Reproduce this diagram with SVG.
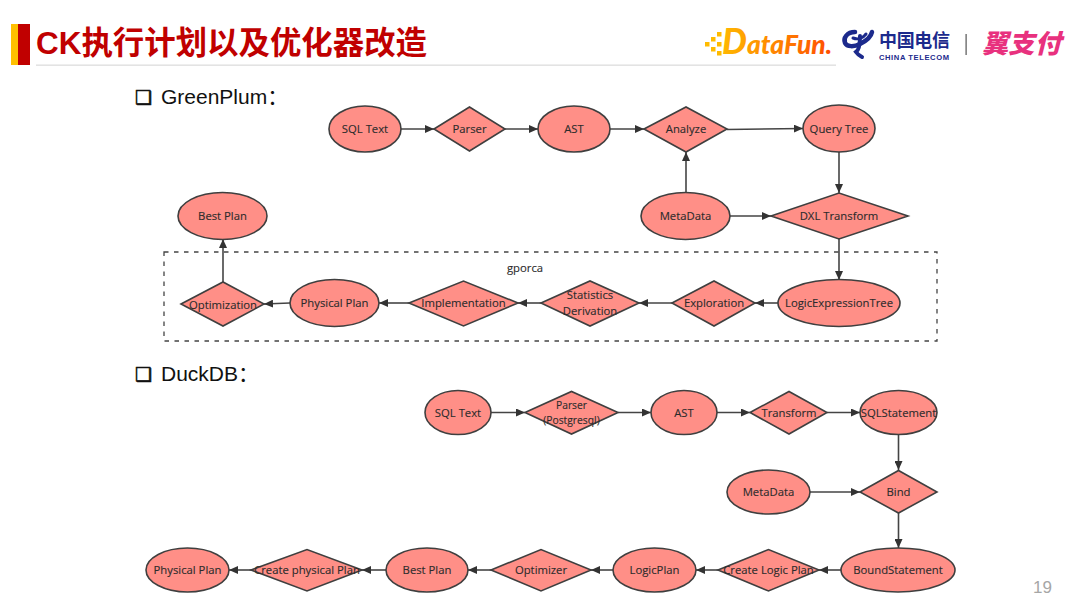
<svg xmlns="http://www.w3.org/2000/svg" width="1080" height="608" viewBox="0 0 1080 608">
<style>
.n{fill:#ff8f87;stroke:#3f3f3f;stroke-width:1.6}
.t{font-family:"Open Sans","Noto Sans",sans-serif;font-size:11.3px;fill:#2b2b2b;text-anchor:middle;stroke:#2b2b2b;stroke-width:.12}
.c{fill:none;stroke:#444;stroke-width:1.6;marker-end:url(#a)}
.b{font-family:"Liberation Sans","Noto Sans CJK SC",sans-serif;font-size:21px;fill:#111}
.k{font-family:"DejaVu Sans",sans-serif;font-size:19px;fill:#111;stroke:#111;stroke-width:.6}
</style>
<defs>
<marker id="a" viewBox="0 0 9 8" markerWidth="9" markerHeight="8" refX="9" refY="4" orient="auto" markerUnits="userSpaceOnUse"><path d="M0 0L9 4L0 8Z" fill="#333"/></marker>
<linearGradient id="g" x1="0" x2="1" y1="0" y2="0"><stop offset="0" stop-color="#ffb800"/><stop offset="1" stop-color="#ff4d00"/></linearGradient>
</defs>
<rect width="1080" height="608" fill="#fff"/>
<g id="header">
<rect x="11" y="24" width="7" height="41" fill="#ffc000"/>
<rect x="18" y="24" width="12" height="41" fill="#c00000"/>
<text x="36" y="54" font-family="'Liberation Sans','Noto Sans CJK SC',sans-serif" font-size="31.5" font-weight="700" fill="#c00000" textLength="391" lengthAdjust="spacingAndGlyphs">CK执行计划以及优化器改造</text>
<rect x="36" y="64.500" width="800" height="1.300" fill="#ddd"/>
</g>
<g id="logos">
<g fill="#ffbb00"><rect x="705" y="42" width="4.500" height="4.500"/><rect x="711" y="37" width="4.500" height="4.500"/><rect x="711" y="47" width="4.500" height="4.500"/><rect x="717" y="32" width="4.500" height="4.500"/><rect x="717" y="42" width="4.500" height="4.500"/><rect x="717" y="51" width="4.500" height="4.500"/></g>
<text x="722" y="54" font-family="Lato,'Liberation Sans',sans-serif" font-size="27" font-weight="900" font-style="italic" fill="url(#g)" textLength="110" lengthAdjust="spacingAndGlyphs"><tspan font-size="36">D</tspan>ataFun.</text>
<g fill="none" stroke="#1c2a8c" stroke-linecap="round">
<path d="M855 32C847 32 843 38 845 43C847 47 854 47 860 44C866 41 871 37 872 32" stroke-width="4.500"/>
<path d="M853 38C858 40 863 38 866 34" stroke-width="3"/>
<path d="M860 36C860 44 859 50 856 52C858 55 860 56 862 57" stroke-width="4"/>
</g>
<text x="879" y="47" font-family="'Noto Sans CJK SC',sans-serif" font-size="18" font-weight="700" fill="#1c2a8c" textLength="71">中国电信</text>
<text x="879" y="60" font-family="'Liberation Sans',sans-serif" font-size="7.600" font-weight="700" fill="#1c2a8c" textLength="70">CHINA TELECOM</text>
<rect x="965.500" y="34" width="1.200" height="21" fill="#555"/>
<text x="982" y="53" font-family="'Noto Sans CJK SC',sans-serif" font-size="26" font-weight="900" font-style="italic" fill="#e8317e" textLength="79" lengthAdjust="spacingAndGlyphs">翼支付</text>
</g>
<text class="k" x="135" y="104">❑</text>
<text class="b" x="161" y="104">GreenPlum：</text>
<text class="k" x="135" y="381">❑</text>
<text class="b" x="161" y="381">DuckDB：</text>
<text x="1033" y="593" font-family="'Liberation Sans',sans-serif" font-size="17" fill="#a6a6a6">19</text>
<rect id="gporca-frame" x="164" y="252" width="773" height="89" fill="none" stroke="#444" stroke-width="1.300" stroke-dasharray="4.500 5.500"/>
<text class="t" x="525" y="272">gporca</text>
<g id="connectors">
<path class="c" d="M401 129H434"/>
<path class="c" d="M505 129H538"/>
<path class="c" d="M610 129H644"/>
<path class="c" d="M727 129.500L803 128.500"/>
<path class="c" d="M686 192V152"/>
<path class="c" d="M839 152V193"/>
<path class="c" d="M730 216H771"/>
<path class="c" d="M839 239V280"/>
<path class="c" d="M778 303H755"/>
<path class="c" d="M672 303H639"/>
<path class="c" d="M541 303H518"/>
<path class="c" d="M409 303H379"/>
<path class="c" d="M290 303L264 304"/>
<path class="c" d="M223 282V239"/>
<path class="c" d="M491 412.500H525"/>
<path class="c" d="M618 412.500H651"/>
<path class="c" d="M717 412.500H750"/>
<path class="c" d="M827 412.500H860"/>
<path class="c" d="M898.500 435V470"/>
<path class="c" d="M810 492H860"/>
<path class="c" d="M898.500 513V548"/>
<path class="c" d="M841 570H819"/>
<path class="c" d="M718 570H696"/>
<path class="c" d="M613 570H591"/>
<path class="c" d="M491 570H468"/>
<path class="c" d="M386 570H362"/>
<path class="c" d="M251 570H229"/>
</g>
<g id="gp-sqltext"><ellipse class="n" cx="365" cy="129" rx="36" ry="23"/><text class="t" x="365" y="133">SQL Text</text></g>
<g id="gp-parser"><path class="n" d="M434 129L469.500 107L505 129L469.500 151Z"/><text class="t" x="469.500" y="133">Parser</text></g>
<g id="gp-ast"><ellipse class="n" cx="574" cy="129" rx="36" ry="23"/><text class="t" x="574" y="133">AST</text></g>
<g id="gp-analyze"><path class="n" d="M644 129L686 107L727 129L686 152Z"/><text class="t" x="686" y="133">Analyze</text></g>
<g id="gp-querytree"><ellipse class="n" cx="839" cy="128.500" rx="36" ry="23.500"/><text class="t" x="839" y="132.500">Query Tree</text></g>
<g id="gp-metadata"><ellipse class="n" cx="685.500" cy="216" rx="44.500" ry="23.500"/><text class="t" x="685.500" y="220">MetaData</text></g>
<g id="gp-dxl"><path class="n" d="M771 216L839 193L908 216L839 239Z"/><text class="t" x="839" y="220">DXL Transform</text></g>
<g id="gp-bestplan"><ellipse class="n" cx="222.500" cy="216" rx="44.500" ry="23.500"/><text class="t" x="222.500" y="220">Best Plan</text></g>
<g id="gp-logicexpr"><ellipse class="n" cx="839" cy="303" rx="61" ry="23.500"/><text class="t" x="839" y="307">LogicExpressionTree</text></g>
<g id="gp-exploration"><path class="n" d="M672 303L714 281L755 303L714 326Z"/><text class="t" x="714" y="307">Exploration</text></g>
<g id="gp-statistics"><path class="n" d="M541 303L590 281L639 303L590 326Z"/><text class="t" x="590" y="299">Statistics</text><text class="t" x="590" y="315">Derivation</text></g>
<g id="gp-implementation"><path class="n" d="M409 303L463.500 281L518 303L463.500 326Z"/><text class="t" x="463.500" y="307">Implementation</text></g>
<g id="gp-physical"><ellipse class="n" cx="334.500" cy="303" rx="44.500" ry="23.500"/><text class="t" x="334.500" y="307">Physical Plan</text></g>
<g id="gp-optimization"><path class="n" d="M181 304L223 282L264 304L223 326Z"/><text class="t" x="223" y="309">Optimization</text></g>
<g id="dk-sqltext"><ellipse class="n" cx="458" cy="412.500" rx="33" ry="22"/><text class="t" x="458" y="416.500">SQL Text</text></g>
<g id="dk-parser"><path class="n" d="M525 412.500L571.500 391.500L618 412.500L571.500 434Z"/><text class="t" x="571.500" y="409" style="font-size:10.300px">Parser</text><text class="t" x="571.500" y="424" style="font-size:10.300px">(Postgresql)</text></g>
<g id="dk-ast"><ellipse class="n" cx="684" cy="412.500" rx="33" ry="22"/><text class="t" x="684" y="416.500">AST</text></g>
<g id="dk-transform"><path class="n" d="M750 412.500L789 391.500L827 412.500L789 434Z"/><text class="t" x="789" y="416.500">Transform</text></g>
<g id="dk-sqlstatement"><ellipse class="n" cx="898.500" cy="412.500" rx="38.500" ry="22"/><text class="t" x="898.500" y="416.500">SQLStatement</text></g>
<g id="dk-metadata"><ellipse class="n" cx="768.500" cy="492" rx="41.500" ry="22"/><text class="t" x="768.500" y="496">MetaData</text></g>
<g id="dk-bind"><path class="n" d="M860 492L898.500 470.500L937 492L898.500 513Z"/><text class="t" x="898.500" y="496">Bind</text></g>
<g id="dk-bound"><ellipse class="n" cx="898" cy="570" rx="57" ry="22"/><text class="t" x="898" y="574">BoundStatement</text></g>
<g id="dk-createlogic"><path class="n" d="M718 570L768.500 549.500L819 570L768.500 591Z"/><text class="t" x="768.500" y="574">Create Logic Plan</text></g>
<g id="dk-logicplan"><ellipse class="n" cx="654.500" cy="570" rx="41.500" ry="22"/><text class="t" x="654.500" y="574">LogicPlan</text></g>
<g id="dk-optimizer"><path class="n" d="M491 570L541 549.500L591 570L541 591Z"/><text class="t" x="541" y="574">Optimizer</text></g>
<g id="dk-bestplan"><ellipse class="n" cx="427" cy="570" rx="41" ry="22"/><text class="t" x="427" y="574">Best Plan</text></g>
<g id="dk-createphys"><path class="n" d="M251 570L307 549.500L362 570L307 591Z"/><text class="t" x="307" y="574">Create physical Plan</text></g>
<g id="dk-physical"><ellipse class="n" cx="187.500" cy="570" rx="41.500" ry="22"/><text class="t" x="187.500" y="574">Physical Plan</text></g>
</svg>
